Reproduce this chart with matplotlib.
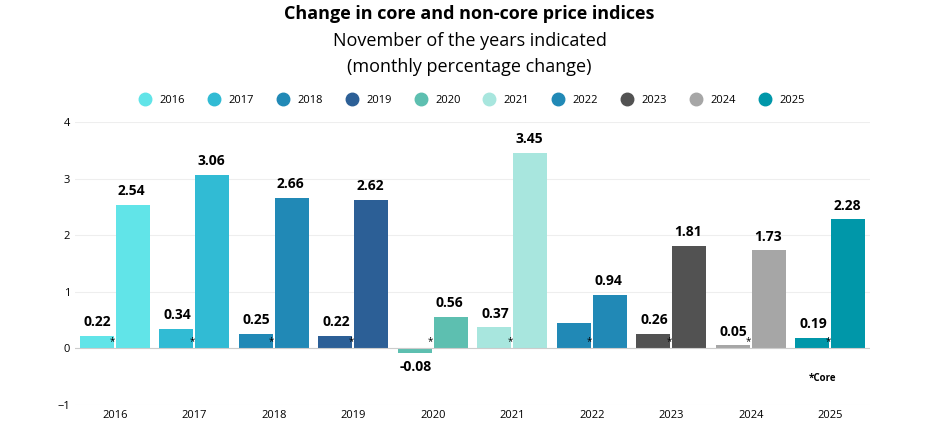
import matplotlib.pyplot as plt
import numpy as np

plt.rcParams['font.family'] = ['Open Sans', 'DejaVu Sans']

years = ['2016', '2017', '2018', '2019', '2020', '2021', '2022', '2023', '2024', '2025']
core = [0.22, 0.34, 0.25, 0.22, -0.08, 0.37, 0.44, 0.26, 0.05, 0.19]
noncore = [2.54, 3.06, 2.66, 2.62, 0.56, 3.45, 0.94, 1.81, 1.73, 2.28]
core_labels = ['0.22', '0.34', '0.25', '0.22', '-0.08', '0.37', '', '0.26', '0.05', '0.19']
colors = ['#61e4e8', '#31bbd4', '#2189b6', '#2c5f96', '#5dbfb0',
          '#a8e6de', '#2189b6', '#525252', '#a6a6a6', '#0097a9']

fig = plt.figure(figsize=(9.39, 4.34), dpi=100)
ax = fig.add_axes([75 / 939, 0.067, 795 / 939, 0.652])

x = np.arange(len(years))
w = 0.43
for i in range(len(years)):
    ax.bar(x[i] - w / 2 - 0.01, core[i], w, color=colors[i])
    ax.bar(x[i] + w / 2 + 0.01, noncore[i], w, color=colors[i])
    ax.text(x[i] - 0.03, 0.02, '*', fontsize=7, ha='center', va='bottom')
    if core_labels[i]:
        if core[i] >= 0:
            ax.text(x[i] - w / 2, core[i] + 0.12, core_labels[i], ha='center', va='bottom',
                    fontsize=10, fontweight='bold')
        else:
            ax.text(x[i] - w / 2, core[i] - 0.12, core_labels[i], ha='center', va='top',
                    fontsize=10, fontweight='bold')
    ax.text(x[i] + w / 2, noncore[i] + 0.12, f'{noncore[i]:.2f}', ha='center', va='bottom',
            fontsize=10, fontweight='bold')

ax.set_xlim(-0.5, len(years) - 0.5)
ax.set_ylim(-1, 4)
ax.set_yticks([-1, 0, 1, 2, 3, 4])
ax.set_xticks(x)
ax.set_xticklabels(years)
ax.tick_params(length=0, labelsize=8)
ax.grid(axis='y', color='#eeeeee', linewidth=0.8)
ax.set_axisbelow(True)
ax.axhline(0, color='#cccccc', linewidth=0.8)
for s in ax.spines.values():
    s.set_visible(False)

handles = [plt.Line2D([], [], marker='o', linestyle='', markersize=9, color=c) for c in colors]
fig.legend(handles, years, loc='center', bbox_to_anchor=(0.5, 0.768), ncol=10,
           frameon=False, fontsize=8, handletextpad=0.3, columnspacing=1.6)

fig.text(0.5, 0.968, 'Change in core and non-core price indices', ha='center', va='center',
         fontsize=13, fontweight='bold')
fig.text(0.5, 0.905, 'November of the years indicated', ha='center', va='center', fontsize=13)
fig.text(0.5, 0.845, '(monthly percentage change)', ha='center', va='center', fontsize=13)
fig.text(0.89, 0.127, '*Core', ha='right', va='center', fontsize=7, fontweight='bold')

fig.savefig('out.png')
